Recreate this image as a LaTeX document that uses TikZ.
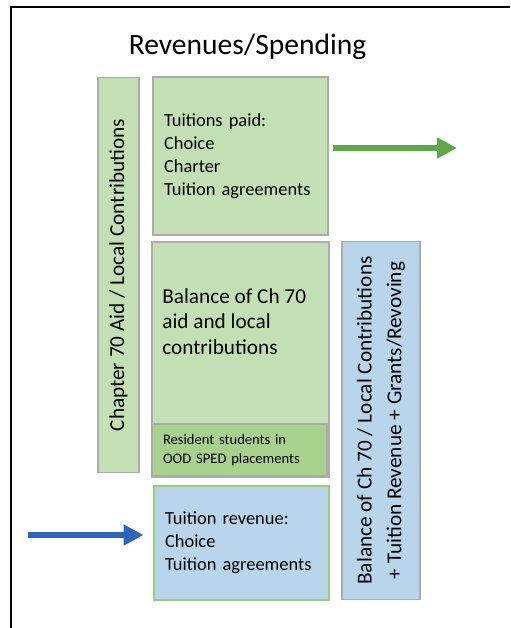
\documentclass[tikz,border=0pt]{standalone}
\usepackage{fontspec}
\setmainfont{Carlito}
\usetikzlibrary{arrows.meta}
\definecolor{gfill}{RGB}{195,224,180}
\definecolor{gdark}{RGB}{169,209,142}
\definecolor{bfill}{RGB}{184,213,236}
\definecolor{edge}{RGB}{172,172,172}
\definecolor{gedge}{RGB}{150,205,130}
\definecolor{garrow}{RGB}{93,168,72}
\definecolor{barrow}{RGB}{47,101,184}

\begin{document}
\begin{tikzpicture}[x=0.02cm,y=-0.02cm,
    box/.style={draw=edge,line width=0.6pt,inner sep=0pt},
    list/.style={align=left,inner xsep=0.22cm,text width=3.06cm,font=\fontsize{10.5}{13}\selectfont},
    big/.style={font=\fontsize{12.1}{14.5}\selectfont},
    flow/.style={line width=3.7pt,-{Triangle[length=11.3pt,width=11.3pt]}}]
            \useasboundingbox (0,0) rectangle (510,628);
            \draw[line width=1.4pt] (11,628) -- (11,7) -- (510,7);
            \node[anchor=base,font=\fontsize{16.8}{20}\selectfont] (title) at (247.5,55) {Revenues/Spending};
            % spending side
            \node[box,fill=gfill,big,rotate=90,minimum width=7.92cm,minimum height=0.82cm] (chap) at (118.5,275) {Chapter 70 Aid / Local Contributions};
            \node[box,list,fill=gfill,minimum height=3.16cm] (paid) at (240.5,156) {Tuitions paid:\\Choice\\Charter\\Tuition agreements};
            \node[box,fill=gfill,minimum width=3.54cm,minimum height=4.7cm] (bal) at (240.5,359.5) {};
            \node[anchor=north west,inner sep=0pt,align=left,big] (baltext) at (162,288) {Balance of Ch 70\\aid and local\\contributions};
            \node[box,fill=gdark,align=left,inner xsep=0.22cm,text width=3.06cm,minimum height=1.04cm,font=\fontsize{8.3}{10.5}\selectfont] (ood) at (239.5,450) {Resident students in\\OOD SPED placements};
            % revenue side
            \node[box,list,draw=gedge,fill=bfill,minimum height=2.28cm] (rev) at (241.5,543) {Tuition revenue:\\Choice\\Tuition agreements};
            \node[box,fill=bfill,rotate=90,align=center,minimum width=7.18cm,minimum height=1.56cm,font=\fontsize{12.1}{17}\selectfont] (total) at (381,420.5) {Balance of Ch 70 / Local Contributions\\+ Tuition Revenue + Grants/Revoving};
            \coordinate (outend) at (457,148);
            \coordinate (inbeg) at (28,535);
            \draw[flow,garrow,shorten <=2.8pt] (paid.east |- outend) -- (outend);
            \draw[flow,barrow,shorten >=5.7pt] (inbeg) -- (rev.west |- inbeg);
        \end{tikzpicture}
\end{document}
